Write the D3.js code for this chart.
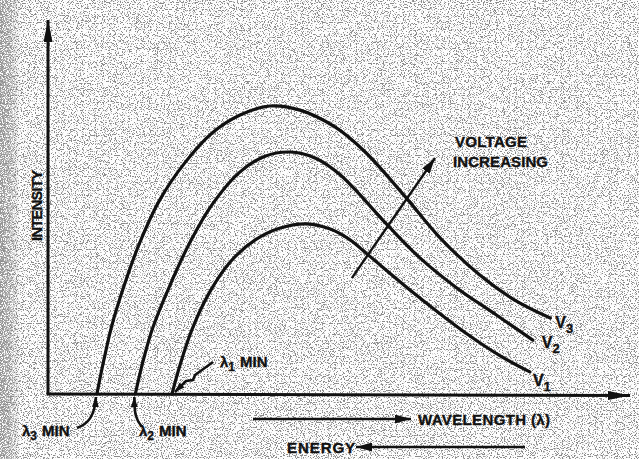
<!DOCTYPE html>
<html>
<head>
<meta charset="utf-8">
<script src="https://cdn.jsdelivr.net/npm/d3@7/dist/d3.min.js"></script>
<style>
  html, body { margin: 0; padding: 0; background: #fff; }
  svg { display: block; }
  text { font-family: "Liberation Sans", Arial, sans-serif; font-weight: bold; fill: #111;
         stroke: #111; stroke-width: 0.35px; }
</style>
</head>
<body>
<svg id="chart" width="639" height="459"></svg>
<script>
// Continuous X-ray spectra (bremsstrahlung) at three tube voltages.
// Wavelength and intensity in arbitrary units.
const wavelengthV1 = [2.13, 2.27, 2.47, 2.78, 3.13, 3.56, 3.99, 4.45, 4.85, 5.19, 5.50, 6.22, 6.74, 7.25, 7.77, 8.28];
const intensityV1  = [0.00, 0.78, 1.71, 2.73, 3.53, 4.12, 4.44, 4.55, 4.41, 4.12, 3.72, 2.78, 2.14, 1.55, 1.02, 0.59];

const wavelengthV2 = [1.50, 1.63, 1.80, 2.06, 2.44, 2.84, 3.30, 3.73, 4.16, 4.59, 5.02, 5.83, 6.39, 7.03, 7.68, 8.33];
const intensityV2  = [0.00, 0.86, 1.77, 2.78, 4.06, 5.11, 5.94, 6.36, 6.47, 6.31, 5.86, 4.52, 3.64, 2.83, 2.14, 1.44];

const wavelengthV3 = [0.84, 0.96, 1.10, 1.31, 1.58, 1.92, 2.35, 2.82, 3.30, 3.81, 4.33, 4.93, 5.45, 6.13, 6.74, 7.42, 8.02, 8.63];
const intensityV3  = [0.00, 0.91, 1.85, 2.91, 4.06, 5.19, 6.18, 6.98, 7.46, 7.70, 7.59, 7.14, 6.47, 5.29, 4.17, 3.18, 2.51, 2.03];

const seriesNames = ["V1", "V2", "V3"];
const lambdaMinLabels = ["λ1 MIN", "λ2 MIN", "λ3 MIN"];
const axisTitles = { y: "INTENSITY", wavelength: "WAVELENGTH (λ)", energy: "ENERGY" };
const trendLabel = ["VOLTAGE", "INCREASING"];
// direction arrow across the curves, [wavelength, intensity] at tail and head
const trendArrow = [[5.22, 3.10], [6.65, 6.31]];

const W = 639, H = 459;
const svg = d3.select("#chart");

const x = d3.scaleLinear().domain([0, 10]).range([48, 630]);
const y = d3.scaleLinear().domain([0, 10]).range([394, 20]);

// ---- paper texture ----
const defs = svg.append("defs");
const grain = defs.append("filter").attr("id", "grain")
  .attr("x", 0).attr("y", 0).attr("width", "100%").attr("height", "100%");
grain.append("feTurbulence").attr("type", "fractalNoise")
  .attr("baseFrequency", 0.85).attr("numOctaves", 2).attr("seed", 7).attr("result", "n");
grain.append("feColorMatrix").attr("in", "n").attr("type", "matrix")
  .attr("values", "0 0 0 0 0.25  0 0 0 0 0.25  0 0 0 0 0.25  -11 0 0 0 5.05");

const grainDense = defs.append("filter").attr("id", "grainDense")
  .attr("x", 0).attr("y", 0).attr("width", "100%").attr("height", "100%");
grainDense.append("feTurbulence").attr("type", "fractalNoise")
  .attr("baseFrequency", 0.9).attr("numOctaves", 2).attr("seed", 11).attr("result", "n");
grainDense.append("feColorMatrix").attr("in", "n").attr("type", "matrix")
  .attr("values", "0 0 0 0 0.3  0 0 0 0 0.3  0 0 0 0 0.3  -9 0 0 0 5.2");

const edgeFade = defs.append("linearGradient").attr("id", "edgeFade")
  .attr("x1", 0).attr("x2", 1).attr("y1", 0).attr("y2", 0);
edgeFade.append("stop").attr("offset", 0).attr("stop-color", "#fff").attr("stop-opacity", 1);
edgeFade.append("stop").attr("offset", 0.6).attr("stop-color", "#fff").attr("stop-opacity", 0.6);
edgeFade.append("stop").attr("offset", 1).attr("stop-color", "#fff").attr("stop-opacity", 0);
const edgeMask = defs.append("mask").attr("id", "edgeMask");
edgeMask.append("rect").attr("x", 0).attr("y", 0).attr("width", 20).attr("height", H)
  .attr("fill", "url(#edgeFade)");

svg.append("rect").attr("width", W).attr("height", H).attr("fill", "#fdfdfd");
svg.append("rect").attr("width", W).attr("height", H).attr("filter", "url(#grain)");
svg.append("rect").attr("width", 20).attr("height", H).attr("filter", "url(#grainDense)")
  .attr("mask", "url(#edgeMask)");

// ---- arrow heads ----
function marker(id, len, half) {
  defs.append("marker").attr("id", id)
    .attr("viewBox", `0 ${-half} ${len} ${2 * half}`)
    .attr("refX", len).attr("refY", 0)
    .attr("markerUnits", "userSpaceOnUse")
    .attr("markerWidth", len).attr("markerHeight", 2 * half)
    .attr("orient", "auto")
    .append("path").attr("d", `M0,${-half}L${len},0L0,${half}Z`).attr("fill", "#111");
}
marker("headAxis", 22, 4.5);
marker("headMid", 16, 4.5);
marker("headSmall", 10, 3.5);

// ---- axes ----
svg.append("line")
  .attr("x1", x(0)).attr("y1", y(0)).attr("x2", x(0)).attr("y2", y(10))
  .attr("stroke", "#111").attr("stroke-width", 3).attr("marker-end", "url(#headAxis)");
svg.append("line")
  .attr("x1", x(0) - 1.5).attr("y1", y(0)).attr("x2", x(10)).attr("y2", y(0) + 1.5)
  .attr("stroke", "#111").attr("stroke-width", 3).attr("marker-end", "url(#headAxis)");

// ---- spectra ----
const series = [
  { name: seriesNames[0], pts: d3.zip(wavelengthV1, intensityV1) },
  { name: seriesNames[1], pts: d3.zip(wavelengthV2, intensityV2) },
  { name: seriesNames[2], pts: d3.zip(wavelengthV3, intensityV3) }
];
const line = d3.line().x(d => x(d[0])).y(d => y(d[1])).curve(d3.curveCatmullRom.alpha(0.5));
svg.append("g").selectAll("path").data(series).join("path")
  .attr("d", d => line(d.pts))
  .attr("fill", "none").attr("stroke", "#111").attr("stroke-width", 3.2)
  .attr("stroke-linecap", "round");

// curve labels V with subscript, just past each curve end
const labelOffset = [[3, 14], [9, 8], [5, 10]];
series.forEach((s, i) => {
  const end = s.pts[s.pts.length - 1];
  const t = svg.append("text")
    .attr("x", x(end[0]) + labelOffset[i][0]).attr("y", y(end[1]) + labelOffset[i][1])
    .attr("font-size", 16);
  t.append("tspan").text(s.name[0]);
  t.append("tspan").attr("dy", 5).attr("font-size", 13).text(s.name.slice(1));
});

// ---- voltage trend arrow ----
svg.append("line")
  .attr("x1", x(trendArrow[0][0])).attr("y1", y(trendArrow[0][1]))
  .attr("x2", x(trendArrow[1][0])).attr("y2", y(trendArrow[1][1]))
  .attr("stroke", "#111").attr("stroke-width", 2.4).attr("marker-end", "url(#headMid)");
svg.append("text").attr("x", 455).attr("y", 147).attr("font-size", 15)
  .attr("textLength", 72).attr("lengthAdjust", "spacing").text(trendLabel[0]);
svg.append("text").attr("x", 453).attr("y", 167).attr("font-size", 15)
  .attr("textLength", 95).attr("lengthAdjust", "spacing").text(trendLabel[1]);

// ---- axis titles ----
svg.append("text").attr("transform", "translate(42,241) rotate(-90)")
  .attr("font-size", 14.5).attr("textLength", 71).attr("lengthAdjust", "spacing")
  .text(axisTitles.y);

svg.append("line").attr("x1", 253).attr("y1", 419).attr("x2", 411).attr("y2", 419)
  .attr("stroke", "#111").attr("stroke-width", 2.6).attr("marker-end", "url(#headMid)");
svg.append("text").attr("x", 418).attr("y", 425).attr("font-size", 15)
  .attr("textLength", 132).attr("lengthAdjust", "spacing").text(axisTitles.wavelength);

svg.append("line").attr("x1", 525).attr("y1", 447).attr("x2", 356).attr("y2", 447)
  .attr("stroke", "#111").attr("stroke-width", 2.6).attr("marker-end", "url(#headMid)");
svg.append("text").attr("x", 287).attr("y", 453).attr("font-size", 15)
  .attr("textLength", 68).attr("lengthAdjust", "spacing").text(axisTitles.energy);

// ---- λ min annotations ----
function lambdaLabel(label, lx, ly) {
  const [sym, rest] = label.split(" ");
  const t = svg.append("text").attr("x", lx).attr("y", ly).attr("font-size", 15);
  t.append("tspan").text(sym[0]);
  t.append("tspan").attr("dy", 4).attr("font-size", 12).text(sym.slice(1));
  t.append("tspan").attr("dy", -4).attr("dx", 5).text(rest);
}
lambdaLabel(lambdaMinLabels[0], 220, 367);
lambdaLabel(lambdaMinLabels[1], 139, 436);
lambdaLabel(lambdaMinLabels[2], 22, 436);

const x1 = x(wavelengthV1[0]), x2 = x(wavelengthV2[0]), x3 = x(wavelengthV3[0]);
const y0 = y(0);
const ann = svg.append("g").attr("fill", "none").attr("stroke", "#111").attr("stroke-width", 2.6);
// λ3: hooks up from the label to the V3 onset
ann.append("path")
  .attr("d", `M77,428 C88,424 ${x3 - 2},416 ${x3 - 1},${y0 + 3}`)
  .attr("marker-end", "url(#headSmall)");
// λ2: curls up to the V2 onset
ann.append("path")
  .attr("d", `M142,427 C136,420 ${x2 - 1},414 ${x2 - 1},${y0 + 3}`)
  .attr("marker-end", "url(#headSmall)");
// λ1: jagged pointer down to the V1 onset
ann.append("path")
  .attr("d", `M213,362 L195,375 L193,380 L186,381 L${x1 + 3},${y0 - 2}`)
  .attr("stroke-linejoin", "round")
  .attr("marker-end", "url(#headSmall)");
</script>
</body>
</html>
